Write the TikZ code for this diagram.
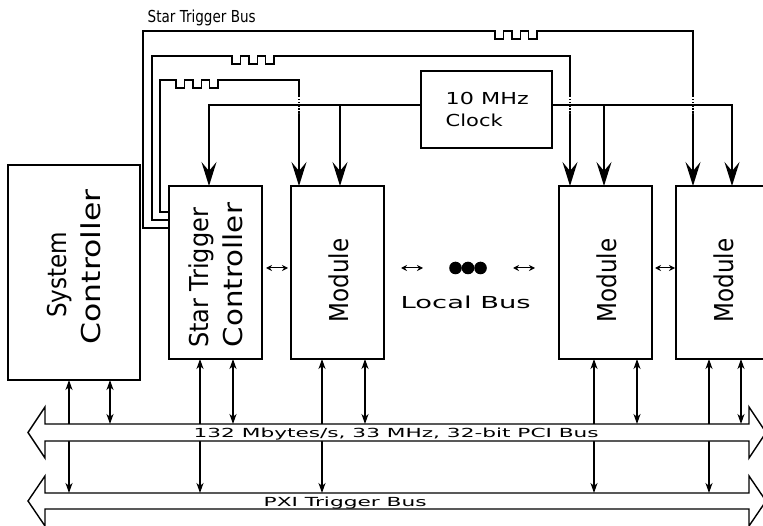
\documentclass[tikz,border=0pt]{standalone}
\usepackage{fontspec}
\usepackage{graphicx}
\setmainfont{DejaVu Sans}
\usetikzlibrary{arrows.meta}
\newcommand\fitw[3]{{\fontsize{#1}{#1}\selectfont\resizebox{#2}{\height}{#3}}}
\begin{document}
\begin{tikzpicture}[x=1pt,y=-1pt,line width=1.4pt,
  box/.style={draw,line width=1.6pt,minimum width=93pt,minimum height=173pt,inner sep=0pt,outer sep=0pt},
  big/.style={-{Stealth[length=24pt,width=15pt,inset=9pt]}},
  io/.style={{Stealth[length=10pt,width=7pt,inset=3pt]}-{Stealth[length=10pt,width=7pt,inset=3pt]}},
  lb/.style={line width=1pt,{Stealth[length=6pt,width=6pt,inset=2pt]}-{Stealth[length=6pt,width=6pt,inset=2pt]}},
  lbl/.style={inner sep=0pt,anchor=base west},
  rlbl/.style={inner sep=0pt,anchor=base,rotate=90},
  bus/.style={draw,fill=white,line width=1.4pt},
  dot/.style={circle,fill,minimum size=12.6pt,inner sep=0pt},
  gapmark/.style={white,line width=1.8pt,dash pattern=on 1.6pt off 1.6pt},
  pulsetrain/.style={insert path={-- ++(0,8) -- ++(8.4,0) -- ++(0,-8) -- ++(8.4,0) -- ++(0,8) -- ++(8.4,0) -- ++(0,-8) -- ++(8.4,0) -- ++(0,8) -- ++(8.4,0) -- ++(0,-8)}},
]
\fill[white] (0,0) rectangle (763,526);
\useasboundingbox (0,0) rectangle (763,526);
\clip (0,0) rectangle (763,526);

% boxes
\node[box,minimum width=132pt,minimum height=215pt] (sys) at (74,272.5) {};
\node[box] (stc) at (215.5,272.5) {};
\node[box] (m1) at (337.5,272.5) {};
\node[box] (m2) at (605.5,272.5) {};
\node[box] (m3) at (722.5,272.5) {};
\node[box,minimum width=131pt,minimum height=77pt] (clk) at (486.5,109.5) {};

% box labels
\node[rlbl] (tsys1) at (66.5,275) {\fitw{26}{86pt}{System}};
\node[rlbl] (tsys2) at (100.5,267) {\fitw{26}{155pt}{Controller}};
\node[rlbl] (tstc1) at (208,278) {\fitw{26}{140pt}{Star Trigger}};
\node[rlbl] (tstc2) at (242,275) {\fitw{26}{144pt}{Controller}};
\node[rlbl] (tm1) at (348,280.5) {\fitw{26}{84pt}{Module}};
\node[rlbl] (tm2) at (616,280.5) {\fitw{26}{84pt}{Module}};
\node[rlbl] (tm3) at (733,280.5) {\fitw{26}{84pt}{Module}};
\node[lbl] (tclk1) at (445,105) {\fitw{16.5}{83pt}{10 MHz}};
\node[lbl] (tclk2) at (445,127) {\fitw{16.5}{57pt}{Clock}};
\node[lbl] (tstb) at (147,23) {\fitw{16.5}{108pt}{Star Trigger Bus}};
\node[lbl] (tlb) at (400,309) {\fitw{16.5}{130pt}{Local Bus}};

% star trigger bus lines
\draw[big] (stc.west |- 0,212) -- (160,212) -- (160,80) -- (176,80) [pulsetrain] -- (299,80) -- (m1.north -| 299,0);
\draw[big] (stc.west |- 0,220) -- (152,220) -- (152,56) -- (232,56) [pulsetrain] -- (570,56) -- (m2.north -| 570,0);
\draw[big] (stc.west |- 0,228) -- (143,228) -- (143,31) -- (495,31) [pulsetrain] -- (693,31) -- (m3.north -| 693,0);

% crossing breaks
\draw[gapmark] (299,97) -- (299,113);
\draw[gapmark] (570,97) -- (570,113);
\draw[gapmark] (693,97) -- (693,113);

% clock lines
\draw[big] (clk.west |- 0,105) -| (stc.north -| 209,0);
\draw[big] (340,105) -- (m1.north -| 340,0);
\draw[big] (clk.east |- 0,105) -| (m3.north -| 732,0);
\draw[big] (604,105) -- (m2.north -| 604,0);

% local bus
\coordinate (lbA1) at (401,268);
\coordinate (lbA2) at (423,268);
\coordinate (lbB1) at (513,268);
\coordinate (lbB2) at (535,268);
\draw[lb,shorten <=4pt,shorten >=3pt] (stc.east |- 0,268) -- (m1.west |- 0,268);
\draw[lb] (lbA1) -- (lbA2);
\node[dot] (d1) at (455.5,268) {};
\node[dot] (d2) at (468,268) {};
\node[dot] (d3) at (480.5,268) {};
\draw[lb] (lbB1) -- (lbB2);
\draw[lb,shorten <=3pt,shorten >=1pt] (m2.east |- 0,268) -- (m3.west |- 0,268);

% bus connections
\coordinate (pci) at (0,424);
\coordinate (pxi) at (0,493);
\draw[io] (sys.south -| 69,0) -- (69,0 |- pxi);
\draw[io] (sys.south -| 110,0) -- (110,0 |- pci);
\draw[io] (stc.south -| 200,0) -- (200,0 |- pxi);
\draw[io] (stc.south -| 233,0) -- (233,0 |- pci);
\draw[io] (m1.south -| 322,0) -- (322,0 |- pxi);
\draw[io] (m1.south -| 365,0) -- (365,0 |- pci);
\draw[io] (m2.south -| 594,0) -- (594,0 |- pxi);
\draw[io] (m2.south -| 637,0) -- (637,0 |- pci);
\draw[io] (m3.south -| 709,0) -- (709,0 |- pxi);
\draw[io] (m3.south -| 741,0) -- (741,0 |- pci);

% buses
\draw[bus] (28,432.5) -- (45,407) -- (45,424) -- (749,424) -- (749,407) -- (766,432.5) -- (749,458) -- (749,441) -- (45,441) -- (45,458) -- cycle;
\draw[bus] (28,501) -- (45,476) -- (45,493) -- (749,493) -- (749,476) -- (766,501) -- (749,526) -- (749,509) -- (45,509) -- (45,526) -- cycle;
\node[lbl] (tpci) at (193,437) {\fitw{12.5}{405pt}{132 Mbytes/s, 33 MHz, 32-bit PCI Bus}};
\node[lbl] (tpxi) at (263,506) {\fitw{12.5}{163pt}{PXI Trigger Bus}};
\end{tikzpicture}
\end{document}
